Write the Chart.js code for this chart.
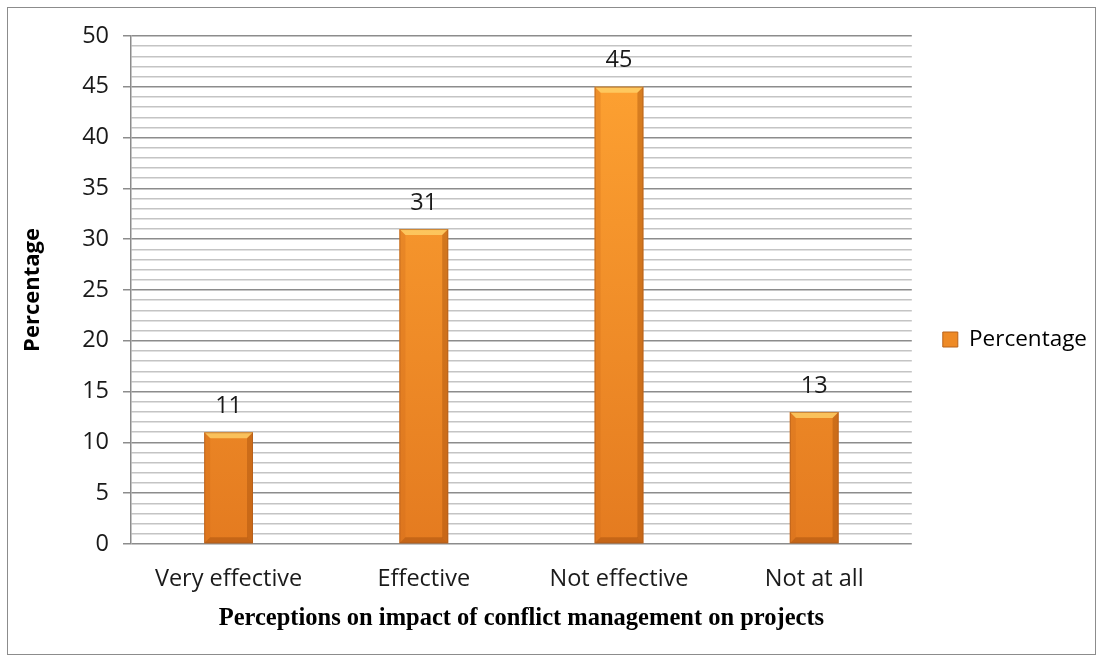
<!DOCTYPE html>
<html>
<head>
<meta charset="utf-8">
<script src="https://cdn.jsdelivr.net/npm/chart.js@4.4.1/dist/chart.umd.min.js"></script>
<style>
  html, body { margin: 0; background: #fff; }
  #frame { position: absolute; left: 7px; top: 7px; width: 1087px; height: 646px; border: 1px solid #8c8c8c; }
  #wrap  { position: absolute; left: 0; top: 0; width: 1102px; height: 661px; }
</style>
</head>
<body>
<div id="frame"></div>
<div id="wrap"><canvas id="chart"></canvas></div>
<script>
// ---- data ----
const categories = ['Very effective', 'Effective', 'Not effective', 'Not at all'];
const percentages = [11, 31, 45, 13];
const seriesName = 'Percentage';
const yTicks = [0, 5, 10, 15, 20, 25, 30, 35, 40, 45, 50];

const FONT = '"Open Sans", Lato, sans-serif';
const SIZE = 23.5;

// bar fill: vertical orange gradient across the plot
function barFill(c) {
  const area = c.chart.chartArea;
  if (!area) return '#f58f2a';
  const g = c.chart.ctx.createLinearGradient(0, area.top, 0, area.bottom);
  g.addColorStop(0, '#ffa433');
  g.addColorStop(1, '#e47b20');
  return g;
}

// draws the bevelled edges on every bar
const bevel = {
  id: 'bevel',
  afterDatasetsDraw(chart) {
    const ctx = chart.ctx;
    const poly = (pts, col) => {
      ctx.beginPath();
      ctx.moveTo(pts[0], pts[1]);
      for (let i = 2; i < pts.length; i += 2) ctx.lineTo(pts[i], pts[i + 1]);
      ctx.closePath();
      ctx.fillStyle = col;
      ctx.fill();
    };
    ctx.save();
    chart.getDatasetMeta(0).data.forEach(bar => {
      const { x, y, base, width } = bar.getProps(['x', 'y', 'base', 'width'], true);
      const l = x - width / 2, r = x + width / 2, b = 6;
      poly([l, y, r, y, r - b, y + b, l + b, y + b], 'rgba(255,214,110,0.75)');
      poly([l, base, r, base, r - b, base - b, l + b, base - b], 'rgba(150,70,10,0.4)');
      poly([l, y, l + b, y + b, l + b, base - b, l, base], 'rgba(205,105,25,0.3)');
      poly([r, y, r - b, y + b, r - b, base - b, r, base], 'rgba(160,75,10,0.4)');
      ctx.strokeStyle = 'rgba(170,90,30,0.6)';
      ctx.lineWidth = 1;
      ctx.strokeRect(l + 0.5, y + 0.5, width - 1, base - y - 1);
    });
    ctx.restore();
  }
};

// value printed above each bar
const valueLabels = {
  id: 'valueLabels',
  afterDatasetsDraw(chart) {
    const ctx = chart.ctx;
    const ds = chart.data.datasets[0];
    ctx.save();
    ctx.font = SIZE + 'px ' + FONT;
    ctx.fillStyle = '#1a1a1a';
    ctx.textAlign = 'center';
    ctx.textBaseline = 'middle';
    chart.getDatasetMeta(0).data.forEach((bar, i) => {
      ctx.fillText(String(ds.data[i]), bar.x, bar.y - 26);
    });
    ctx.restore();
  }
};

new Chart(document.getElementById('chart'), {
  type: 'bar',
  data: {
    labels: categories,
    datasets: [{
      label: seriesName,
      data: percentages,
      backgroundColor: barFill,
      borderWidth: 0,
      categoryPercentage: 1,
      barPercentage: 0.25
    }]
  },
  options: {
    responsive: true,
    maintainAspectRatio: false,
    animation: false,
    layout: { padding: { left: 10, top: 36, right: 5, bottom: 18 } },
    plugins: {
      tooltip: { enabled: false },
      legend: {
        position: 'right',
        labels: {
          font: { family: FONT, size: 22.5 },
          color: '#1a1a1a',
          boxWidth: 15,
          boxHeight: 15,
          padding: 31,
          generateLabels: chart => [{
            text: seriesName,
            fillStyle: '#ee8a26',
            strokeStyle: '#b8621a',
            lineWidth: 1,
            datasetIndex: 0
          }]
        }
      }
    },
    scales: {
      x: {
        grid: { display: false, drawTicks: false },
        border: { display: false },
        ticks: { font: { family: FONT, size: SIZE }, color: '#1a1a1a', padding: 21 },
        title: {
          display: true,
          text: 'Perceptions on impact of conflict management on projects',
          font: { family: '"Liberation Serif", "Times New Roman", serif', size: 24.5, weight: 'bold' },
          color: '#000',
          padding: { top: 0, bottom: 10 }
        },
        afterFit: s => { s.height = 99; }
      },
      y: {
        min: 0,
        max: 50,
        ticks: {
          stepSize: 1,
          autoSkip: false,
          font: { family: FONT, size: SIZE },
          color: '#1a1a1a',
          padding: 14,
          callback: v => yTicks.includes(v) ? String(v) : ''
        },
        grid: {
          color: c => c.tick && c.tick.value % 5 === 0 ? '#8c8c8c' : '#c4c4c4',
          tickColor: c => c.tick && c.tick.value % 5 === 0 ? '#8c8c8c' : 'rgba(0,0,0,0)',
          tickLength: 8,
          lineWidth: 1.5
        },
        border: { color: '#8c8c8c', width: 1.5 },
        title: {
          display: true,
          text: 'Percentage',
          font: { family: FONT, size: 22, weight: 'bold' },
          color: '#000',
          padding: { top: 10, bottom: 0 }
        },
        afterFit: s => { s.width = 121; }
      }
    }
  },
  plugins: [bevel, valueLabels]
});
</script>
</body>
</html>
